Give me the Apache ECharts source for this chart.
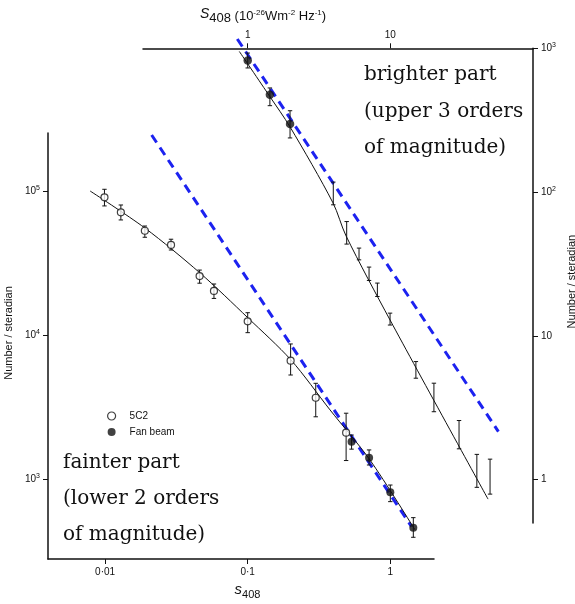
<!DOCTYPE html>
<html>
<head>
<meta charset="utf-8">
<script src="https://cdn.jsdelivr.net/npm/echarts@6/dist/echarts.min.js"></script>
<style>
html, body { margin: 0; padding: 0; background: #fff; }
#main { width: 575px; height: 604px; }
</style>
</head>
<body>
<div id="main"></div>
<script>
// fainter part (lower-left axes): 5C2 survey, open circles
var faint5c2S = [0.0099, 0.0129, 0.019, 0.029, 0.046, 0.058, 0.1, 0.2, 0.3, 0.49];
var faint5c2N = [91400, 71900, 53500, 42600, 25900, 20400, 12550, 6680, 3690, 2110];
var faint5c2Lo = [79600, 63600, 48200, 39300, 23100, 18100, 10460, 5310, 2720, 1350];
var faint5c2Hi = [103900, 80800, 57700, 46700, 28500, 22800, 14400, 8730, 4650, 2880];

// fainter part: fan beam, filled circles
var faintFanS = [0.535, 0.71, 1.0, 1.45];
var faintFanN = [1826, 1413, 812, 461];
var faintFanLo = [1620, 1257, 699, 395];
var faintFanHi = [2030, 1600, 912, 541];

// fitted curve through the faint counts
var faintCurveS = [0.00785, 0.019, 0.0463, 0.1005, 0.201, 0.378, 0.72, 1.49];
var faintCurveN = [101100, 55900, 27200, 13240, 6760, 3035, 1362, 445];

// euclidean slope -1.5 reference line (blue dashes)
var faintEuclidS = [0.0212, 1.41];
var faintEuclidN = [248000, 468];

// brighter part (upper-right axes): fan beam, filled circles
var brightFanS = [1.0, 1.43, 1.98];
var brightFanN = [824, 475, 297];
var brightFanLo = [730, 399, 238];
var brightFanHi = [927, 530, 368];

// brighter part: counts drawn as error bars only
var brightBarS = [3.98, 4.94, 6.03, 7.09, 8.11, 9.95, 15.1, 20.2, 30.3, 40.4, 50.0];
var brightBarLo = [81.6, 43.5, 33.8, 24.3, 18.8, 11.9, 5.08, 2.97, 1.64, 0.885, 0.794];
var brightBarHi = [117.4, 62.4, 40.8, 30.1, 23.3, 14.4, 6.63, 4.69, 2.58, 1.50, 1.39];

var brightCurveS = [0.873, 1.433, 1.98, 3.96, 4.89, 9.95, 48.4];
var brightCurveN = [951, 460, 284, 84.2, 49.6, 12.9, 0.733];

var brightEuclidS = [0.845, 57.2];
var brightEuclidN = [1161, 2.16];

// tick labels
var faintXTicks = [0.01, 0.1, 1];
var faintXLabels = ['0·01', '0·1', '1'];
var faintYTicks = [1e3, 1e4, 1e5];
var faintYLabels = ['10{sup|3}', '10{sup|4}', '10{sup|5}'];
var brightXTicks = [1, 10];
var brightXLabels = ['1', '10'];
var brightYTicks = [1, 10, 100, 1000];
var brightYLabels = ['1', '10', '10{sup|2}', '10{sup|3}'];

var SANS = '"Liberation Sans", Arial, sans-serif';
var BLUE = '#1c22f0';
var INK = '#111';

function zip() {
    var cols = Array.prototype.slice.call(arguments);
    return cols[0].map(function (v, i) {
        return cols.map(function (c) { return c[i]; });
    });
}

function tickFormatter(ticks, labels) {
    return function (v) {
        for (var i = 0; i < ticks.length; i++) {
            if (Math.abs(v - ticks[i]) / ticks[i] < 1e-4) return labels[i];
        }
        return '';
    };
}

// 误差棒
function renderErrorBar(params, api) {
    var s = api.value(0);
    var lo = api.coord([s, api.value(1)]);
    var hi = api.coord([s, api.value(2)]);
    var cap = 2.2;
    var st = { stroke: INK, lineWidth: 1 };
    return {
        type: 'group',
        children: [
            { type: 'line', shape: { x1: hi[0], y1: hi[1], x2: lo[0], y2: lo[1] }, style: st },
            { type: 'line', shape: { x1: hi[0] - cap, y1: hi[1], x2: hi[0] + cap, y2: hi[1] }, style: st },
            { type: 'line', shape: { x1: lo[0] - cap, y1: lo[1], x2: lo[0] + cap, y2: lo[1] }, style: st }
        ]
    };
}

function axisCommon(ticks, labels) {
    return {
        type: 'log',
        logBase: 10,
        splitLine: { show: false },
        minorTick: { show: false },
        axisLine: { show: true, lineStyle: { color: INK, width: 1.5 } },
        axisTick: { show: true, customValues: ticks, length: 5, lineStyle: { color: INK, width: 1 } },
        axisLabel: {
            customValues: ticks,
            formatter: tickFormatter(ticks, labels),
            color: INK,
            fontFamily: SANS,
            fontSize: 10,
            rich: {
                sup: { fontSize: 7, fontFamily: SANS, color: INK, padding: [0, 0, 7, 0] }
            }
        }
    };
}

function merge(a, b) {
    for (var k in b) a[k] = b[k];
    return a;
}

var chart = echarts.init(document.getElementById('main'));

var option = {
    backgroundColor: '#fff',
    animation: false,
    grid: [
        { left: 48, right: 141, top: 133, bottom: 45, outerBoundsMode: 'none' },
        { left: 143, right: 42, top: 48.3, bottom: 81, outerBoundsMode: 'none' }
    ],
    xAxis: [
        merge(axisCommon(faintXTicks, faintXLabels), {
            gridIndex: 0, position: 'bottom', min: 0.003978, max: 2.025,
            name: '{it|s}{sub|408}', nameLocation: 'middle', nameGap: 23,
            nameTextStyle: {
                fontFamily: SANS, fontSize: 11, color: INK, padding: [0, 0, 0, 13],
                rich: {
                    it: { fontSize: 15, fontStyle: 'italic', fontFamily: SANS, color: INK, padding: [0, 0, 4, 0] },
                    sub: { fontSize: 11, fontFamily: SANS, color: INK, padding: [6, 0, 0, 0] }
                }
            }
        }),
        merge(axisCommon(brightXTicks, brightXLabels), {
            gridIndex: 1, position: 'top', min: 0.1844, max: 100,
            name: '{it|S}{sub|408} (10{sup|-26}Wm{sup|-2} Hz{sup|-1})', nameLocation: 'middle', nameGap: 21,
            nameTextStyle: {
                fontFamily: SANS, fontSize: 13, color: INK, padding: [0, 150, 0, 0],
                rich: {
                    it: { fontSize: 14, fontStyle: 'italic', fontFamily: SANS, color: INK, padding: [0, 0, 4, 0] },
                    sub: { fontSize: 13, fontFamily: SANS, color: INK, padding: [5, 0, 0, 0] },
                    sup: { fontSize: 8, fontFamily: SANS, color: INK, padding: [0, 0, 8, 0] }
                }
            }
        })
    ],
    yAxis: [
        merge(axisCommon(faintYTicks, faintYLabels), {
            gridIndex: 0, position: 'left', min: 279, max: 255900,
            name: 'Number / steradian', nameLocation: 'middle', nameGap: 31, nameRotate: 90,
            nameTextStyle: { fontFamily: SANS, fontSize: 11, color: INK, padding: [0, 0, 0, 26] }
        }),
        merge(axisCommon(brightYTicks, brightYLabels), {
            gridIndex: 1, position: 'right', min: 0.5, max: 1000,
            name: 'Number / steradian', nameLocation: 'middle', nameGap: 33, nameRotate: 90,
            nameTextStyle: { fontFamily: SANS, fontSize: 11, color: INK, padding: [0, 0, 0, 8] }
        })
    ],
    legend: {
        left: 102, top: 406, orient: 'vertical', itemWidth: 8, itemHeight: 8, itemGap: 6,
        icon: 'circle',
        textStyle: { fontFamily: SANS, fontSize: 10, color: INK, padding: [0, 0, 0, 9] },
        data: [
            { name: '5C2', itemStyle: { color: '#fff', borderColor: INK, borderWidth: 1.2 } },
            { name: 'Fan beam', itemStyle: { color: INK, borderWidth: 0 } }
        ]
    },
    graphic: [
        {
            type: 'text', left: 63, top: 445,
            style: { text: 'fainter part\n(lower 2 orders\nof magnitude)', fontFamily: '"DejaVu Serif", serif', fontSize: 20, lineHeight: 36, fill: INK }
        },
        {
            type: 'text', left: 364, top: 57,
            style: { text: 'brighter part\n(upper 3 orders\nof magnitude)', fontFamily: '"DejaVu Serif", serif', fontSize: 20, lineHeight: 36.5, fill: INK }
        }
    ],
    series: [
        {
            type: 'line', name: 'euclid-faint', xAxisIndex: 0, yAxisIndex: 0, clip: false,
            data: zip(faintEuclidS, faintEuclidN), symbol: 'none',
            lineStyle: { color: BLUE, width: 3, type: [9, 6] }, z: 2
        },
        {
            type: 'line', name: 'fit-faint', xAxisIndex: 0, yAxisIndex: 0, smooth: 0.3,
            data: zip(faintCurveS, faintCurveN), symbol: 'none',
            lineStyle: { color: INK, width: 1 }, z: 3
        },
        {
            type: 'custom', name: 'err-5C2', xAxisIndex: 0, yAxisIndex: 0, renderItem: renderErrorBar,
            data: zip(faint5c2S, faint5c2Lo, faint5c2Hi), encode: { x: 0, y: [1, 2] }, z: 4
        },
        {
            type: 'custom', name: 'err-fan-faint', xAxisIndex: 0, yAxisIndex: 0, renderItem: renderErrorBar,
            data: zip(faintFanS, faintFanLo, faintFanHi), encode: { x: 0, y: [1, 2] }, z: 4
        },
        {
            type: 'scatter', name: '5C2', xAxisIndex: 0, yAxisIndex: 0, symbol: 'circle', symbolSize: 7,
            data: zip(faint5c2S, faint5c2N),
            itemStyle: { color: '#fff', borderColor: INK, borderWidth: 1.2 }, z: 5
        },
        {
            type: 'scatter', name: 'Fan beam', xAxisIndex: 0, yAxisIndex: 0, symbol: 'circle', symbolSize: 8,
            data: zip(faintFanS, faintFanN),
            itemStyle: { color: INK }, z: 5
        },
        {
            type: 'line', name: 'euclid-bright', xAxisIndex: 1, yAxisIndex: 1, clip: false,
            data: zip(brightEuclidS, brightEuclidN), symbol: 'none',
            lineStyle: { color: BLUE, width: 3, type: [9, 6] }, z: 2
        },
        {
            type: 'line', name: 'fit-bright', xAxisIndex: 1, yAxisIndex: 1, smooth: 0.3, clip: false,
            data: zip(brightCurveS, brightCurveN), symbol: 'none',
            lineStyle: { color: INK, width: 1 }, z: 3
        },
        {
            type: 'custom', name: 'err-bright', xAxisIndex: 1, yAxisIndex: 1, renderItem: renderErrorBar,
            data: zip(brightBarS, brightBarLo, brightBarHi), encode: { x: 0, y: [1, 2] }, z: 4
        },
        {
            type: 'custom', name: 'err-fan-bright', xAxisIndex: 1, yAxisIndex: 1, renderItem: renderErrorBar,
            data: zip(brightFanS, brightFanLo, brightFanHi), encode: { x: 0, y: [1, 2] }, z: 4
        },
        {
            type: 'scatter', name: 'Fan beam', xAxisIndex: 1, yAxisIndex: 1, symbol: 'circle', symbolSize: 8.5,
            data: zip(brightFanS, brightFanN),
            itemStyle: { color: INK }, z: 5
        }
    ]
};

chart.setOption(option);
</script>
</body>
</html>
